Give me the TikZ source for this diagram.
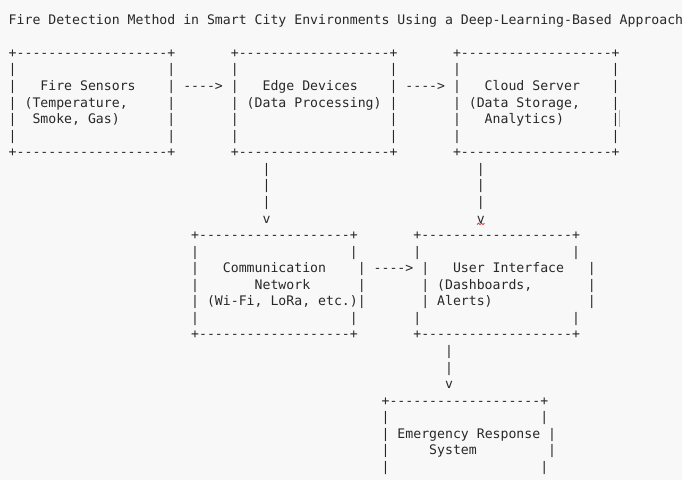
\documentclass[tikz,border=0pt]{standalone}
\usepackage{fontspec}
\setmonofont{DejaVu Sans Mono}
\definecolor{paper}{RGB}{248,248,248}
\definecolor{ink}{RGB}{40,40,40}
\definecolor{caret}{RGB}{175,175,175}
\definecolor{spell}{RGB}{215,45,45}
\tikzset{
  txt/.style={anchor=base west, inner sep=0pt, outer sep=0pt, text=ink,
    font=\ttfamily\fontsize{13.18pt}{16.56pt}\selectfont},
}
% one character cell: column #1, line #2 (monospace grid)
\newcommand\gridtext[3]{\node[txt] (n#2-#1) at ({8.7+7.934*#1},{-24.3-16.56*#2}) {#3};}
\newcommand\boxedge{+-------------------+}
\begin{document}
\begin{tikzpicture}[x=1pt,y=1pt]
\fill[paper] (0,0) rectangle (682,-480);
\useasboundingbox (0,0) rectangle (682,-480);

% title
\gridtext{0}{0}{Fire Detection Method in Smart City Environments Using a Deep-Learning-Based Approach}

% top row of boxes
\gridtext{0}{2}{\boxedge}\gridtext{28}{2}{\boxedge}\gridtext{56}{2}{\boxedge}
\gridtext{0}{3}{|}\gridtext{20}{3}{|}\gridtext{28}{3}{|}\gridtext{48}{3}{|}\gridtext{56}{3}{|}\gridtext{76}{3}{|}
\gridtext{0}{4}{|}\gridtext{4}{4}{Fire Sensors}\gridtext{20}{4}{|}\gridtext{22}{4}{---->}
\gridtext{28}{4}{|}\gridtext{32}{4}{Edge Devices}\gridtext{48}{4}{|}\gridtext{50}{4}{---->}
\gridtext{56}{4}{|}\gridtext{60}{4}{Cloud Server}\gridtext{76}{4}{|}
\gridtext{0}{5}{|}\gridtext{2}{5}{(Temperature,}\gridtext{20}{5}{|}
\gridtext{28}{5}{|}\gridtext{30}{5}{(Data Processing)}\gridtext{48}{5}{|}
\gridtext{56}{5}{|}\gridtext{58}{5}{(Data Storage,}\gridtext{76}{5}{|}
\gridtext{0}{6}{|}\gridtext{3}{6}{Smoke, Gas)}\gridtext{20}{6}{|}
\gridtext{28}{6}{|}\gridtext{48}{6}{|}
\gridtext{56}{6}{|}\gridtext{60}{6}{Analytics)}\gridtext{76}{6}{|}
\gridtext{0}{7}{|}\gridtext{20}{7}{|}\gridtext{28}{7}{|}\gridtext{48}{7}{|}\gridtext{56}{7}{|}\gridtext{76}{7}{|}
\gridtext{0}{8}{\boxedge}\gridtext{28}{8}{\boxedge}\gridtext{56}{8}{\boxedge}

% text caret beside the Cloud Server box
\draw[caret, line width=1.1pt] (619.5,-110) -- (619.5,-127);

% downward links
\gridtext{32}{9}{|}\gridtext{59}{9}{|}
\gridtext{32}{10}{|}\gridtext{59}{10}{|}
\gridtext{32}{11}{|}\gridtext{59}{11}{|}
\gridtext{32}{12}{v}\gridtext{59}{12}{v}
% spell-check squiggle under the second v
\draw[spell, line width=0.7pt] (477,-224.6) -- (478.5,-223.2) -- (480,-224.6)
  -- (481.5,-223.2) -- (483,-224.6) -- (484.5,-223.2);

% middle row of boxes
\gridtext{23}{13}{\boxedge}\gridtext{51}{13}{\boxedge}
\gridtext{23}{14}{|}\gridtext{43}{14}{|}\gridtext{51}{14}{|}\gridtext{71}{14}{|}
\gridtext{23}{15}{|}\gridtext{27}{15}{Communication}\gridtext{44}{15}{|}\gridtext{46}{15}{---->}
\gridtext{52}{15}{|}\gridtext{56}{15}{User Interface}\gridtext{73}{15}{|}
\gridtext{23}{16}{|}\gridtext{31}{16}{Network}\gridtext{44}{16}{|}
\gridtext{52}{16}{|}\gridtext{54}{16}{(Dashboards,}\gridtext{73}{16}{|}
\gridtext{23}{17}{|}\gridtext{25}{17}{(Wi-Fi, LoRa, etc.)}\gridtext{44}{17}{|}
\gridtext{52}{17}{|}\gridtext{54}{17}{Alerts)}\gridtext{73}{17}{|}
\gridtext{23}{18}{|}\gridtext{43}{18}{|}\gridtext{51}{18}{|}\gridtext{71}{18}{|}
\gridtext{23}{19}{\boxedge}\gridtext{51}{19}{\boxedge}

% link to the response box
\gridtext{55}{20}{|}
\gridtext{55}{21}{|}
\gridtext{55}{22}{v}

% bottom box
\gridtext{47}{23}{\boxedge}
\gridtext{47}{24}{|}\gridtext{67}{24}{|}
\gridtext{47}{25}{|}\gridtext{49}{25}{Emergency Response}\gridtext{68}{25}{|}
\gridtext{47}{26}{|}\gridtext{53}{26}{System}\gridtext{68}{26}{|}
\gridtext{47}{27}{|}\gridtext{67}{27}{|}
\end{tikzpicture}
\end{document}
